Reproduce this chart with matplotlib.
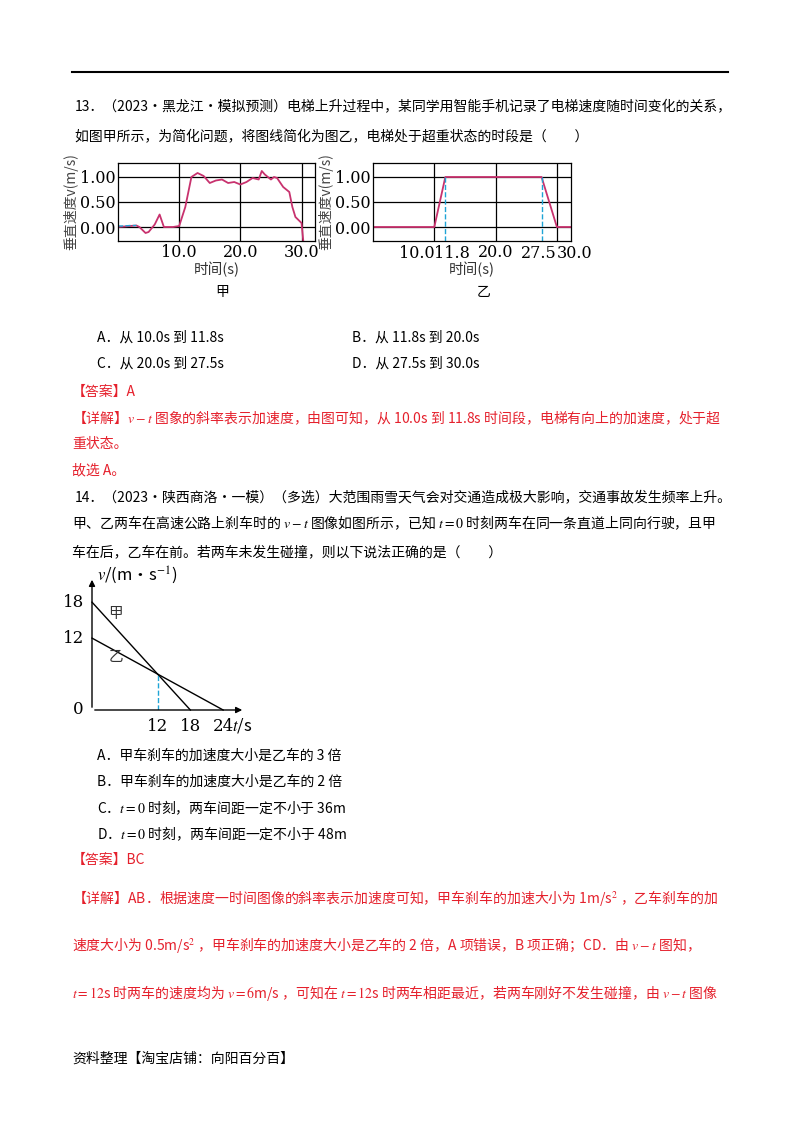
import matplotlib.pyplot as plt
import numpy as np

plt.rcParams['font.family'] = ['Noto Sans CJK SC', 'DejaVu Sans']
plt.rcParams['mathtext.fontset'] = 'stix'

W, H = 800, 1132
RED = '#e5202c'
PINK = '#c8326e'
CYAN = '#1fa4d6'

# 图甲 measured curve
t_jia = [0, 1, 2, 3, 3.5, 4.5, 5, 6, 6.8, 7.5, 8, 9, 10, 11, 12, 13, 14, 15, 16, 17,
         18, 19, 20, 21, 22, 23, 23.5, 24, 25, 25.5, 26, 27, 28, 28.5, 29, 30, 30.3]
v_jia = [0, 0.01, 0.02, 0.03, 0, -0.12, -0.1, 0.05, 0.25, 0.0, 0, 0, 0.02, 0.4, 1.0, 1.08,
         1.02, 0.88, 0.93, 0.95, 0.88, 0.9, 0.85, 0.9, 0.98, 0.95, 1.12, 1.05, 0.95, 1.0,
         0.98, 0.8, 0.7, 0.4, 0.2, 0.08, -0.3]
t_jia_dash = [0, 1, 2, 3]
v_jia_dash = [0.02, 0.02, 0.03, 0.03]

# 图乙 simplified curve
t_yi = [-1, 10.0, 11.8, 27.5, 30.0, 33]
v_yi = [0, 0, 1.0, 1.0, 0, 0]

# v-t graph for question 14
t_a = [0, 18]; v_a = [18, 0]
t_b = [0, 24]; v_b = [12, 0]
t_meet, v_meet = 12, 6

FS = 10.0
TFS = 11.5

fig = plt.figure(figsize=(W / 100, H / 100), dpi=100)


def px_axes(x0, y0, x1, y1):
    return fig.add_axes([x0 / W, 1 - y1 / H, (x1 - x0) / W, (y1 - y0) / H])


def txt(x, y, s, color='black', size=FS, **kw):
    fig.text(x / W, 1 - y / H, s, color=color, fontsize=size, va='center', ha='left', **kw)


fig.add_artist(plt.Line2D([72 / W, 728 / W], [1 - 72 / H] * 2, color='black', lw=1.5))

txt(75, 107, '13．（2023·黑龙江·模拟预测）电梯上升过程中，某同学用智能手机记录了电梯速度随时间变化的关系，')
txt(75, 137, '如图甲所示，为简化问题，将图线简化为图乙，电梯处于超重状态的时段是（　　）')


def style_v(ax, xticks, xlabels):
    ax.set_ylim(-0.28, 1.28)
    ax.set_yticks([0, 0.5, 1.0])
    ax.set_yticklabels(['0.00', '0.50', '1.00'], family='serif', fontsize=TFS)
    ax.set_xticks(xticks)
    ax.set_xticklabels(xlabels, family='serif', fontsize=TFS)
    ax.tick_params(length=0, pad=2)
    ax.grid(True, color='black', lw=0.9)
    for s in ax.spines.values():
        s.set_linewidth(0.9)
    ax.set_xlabel('时间(s)', fontsize=10.5, labelpad=1, color='#333333')
    ax.set_ylabel('垂直速度v(m/s)', fontsize=10, labelpad=1, color='#444444')


ax1 = px_axes(118, 163, 315, 241)
ax1.set_xlim(0, 32.2)
style_v(ax1, [10, 20, 30], ['10.0', '20.0', '30.0'])
ax1.plot(t_jia, v_jia, color=PINK, lw=1.3)
ax1.plot(t_jia_dash, v_jia_dash, color=CYAN, lw=1, ls='--')
txt(215, 292, '甲')

ax2 = px_axes(373, 163, 571, 241)
ax2.set_xlim(0, 32.3)
style_v(ax2, [10, 20, 30], ['', '20.0', ''])
ax2.text(10.0, -0.36, '10.0', ha='right', va='top', family='serif', fontsize=TFS)
ax2.text(10.0, -0.36, '11.8', ha='left', va='top', family='serif', fontsize=TFS)
ax2.text(30.0, -0.36, '27.5', ha='right', va='top', family='serif', fontsize=TFS)
ax2.text(30.0, -0.36, '30.0', ha='left', va='top', family='serif', fontsize=TFS)
ax2.plot(t_yi, v_yi, color=PINK, lw=1.3)
ax2.plot([11.8, 11.8], [1.0, -0.28], color=CYAN, lw=1, ls='--')
ax2.plot([27.5, 27.5], [1.0, -0.28], color=CYAN, lw=1, ls='--')
txt(477, 292, '乙')

txt(97, 338, 'A．从 10.0s 到 11.8s')
txt(352, 338, 'B．从 11.8s 到 20.0s')
txt(97, 364, 'C．从 20.0s 到 27.5s')
txt(352, 364, 'D．从 27.5s 到 30.0s')
txt(72, 392, '【答案】A', RED)
txt(72, 418, '【详解】$v-t$ 图象的斜率表示加速度，由图可知，从 10.0s 到 11.8s 时间段，电梯有向上的加速度，处于超', RED)
txt(72, 444, '重状态。', RED)
txt(72, 470, '故选 A。', RED)

txt(75, 497, '14．（2023·陕西商洛·一模）（多选）大范围雨雪天气会对交通造成极大影响，交通事故发生频率上升。')
txt(72, 523, '甲、乙两车在高速公路上刹车时的 $v-t$ 图像如图所示，已知 $t=0$ 时刻两车在同一条直道上同向行驶，且甲')
txt(72, 552, '车在后，乙车在前。若两车未发生碰撞，则以下说法正确的是（　　）')

# v-t graph
ax3 = px_axes(92, 577, 245, 710)
ax3.set_xlim(0, 28)
ax3.set_ylim(0, 22.2)
ax3.axis('off')
ax3.annotate('', xy=(28, 0), xytext=(0, 0), annotation_clip=False,
             arrowprops=dict(arrowstyle='-|>', color='black', lw=1, mutation_scale=9))
ax3.annotate('', xy=(0, 22.2), xytext=(0, 0), annotation_clip=False,
             arrowprops=dict(arrowstyle='-|>', color='black', lw=1, mutation_scale=9))
ax3.plot(t_a, v_a, color='black', lw=1, clip_on=False)
ax3.plot(t_b, v_b, color='black', lw=1, clip_on=False)
ax3.plot([t_meet, t_meet], [0, v_meet], color=CYAN, lw=1, ls='--')
for v in [18, 12]:
    ax3.text(-1.5, v, str(v), ha='right', va='center', family='serif', fontsize=12)
ax3.text(-1.5, 0, '0', ha='right', va='center', family='serif', fontsize=12)
for t in [12, 18]:
    ax3.text(t, -1.4, str(t), ha='center', va='top', family='serif', fontsize=12)
ax3.text(24, -1.4, '24', ha='center', va='top', family='serif', fontsize=12)
ax3.text(25.6, -1.0, '$t$/s', ha='left', va='top', fontsize=12)
ax3.text(1.0, 22.5, '$v$/(m·s$^{-1}$)', ha='left', va='center', fontsize=12)
ax3.text(3.0, 16.0, '甲', fontsize=10.5, va='center', color='#333333')
ax3.text(3.0, 8.8, '乙', fontsize=10.5, va='center', color='#333333')

txt(97, 756, 'A．甲车刹车的加速度大小是乙车的 3 倍')
txt(97, 782, 'B．甲车刹车的加速度大小是乙车的 2 倍')
txt(97, 808, 'C．$t=0$ 时刻，两车间距一定不小于 36m')
txt(97, 834, 'D．$t=0$ 时刻，两车间距一定不小于 48m')
txt(72, 860, '【答案】BC', RED)
txt(72, 898, '【详解】AB．根据速度一时间图像的斜率表示加速度可知，甲车刹车的加速大小为 1m/s$^2$ ，乙车刹车的加', RED)
txt(72, 945, '速度大小为 0.5m/s$^2$ ，甲车刹车的加速度大小是乙车的 2 倍，A 项错误，B 项正确；CD．由 $v-t$ 图知，', RED)
txt(72, 993, '$t=12$s 时两车的速度均为 $v=6$m/s ，可知在 $t=12$s 时两车相距最近，若两车刚好不发生碰撞，由 $v-t$ 图像', RED)
txt(72, 1059, '资料整理【淘宝店铺：向阳百分百】')

fig.savefig('out.png', dpi=100)
